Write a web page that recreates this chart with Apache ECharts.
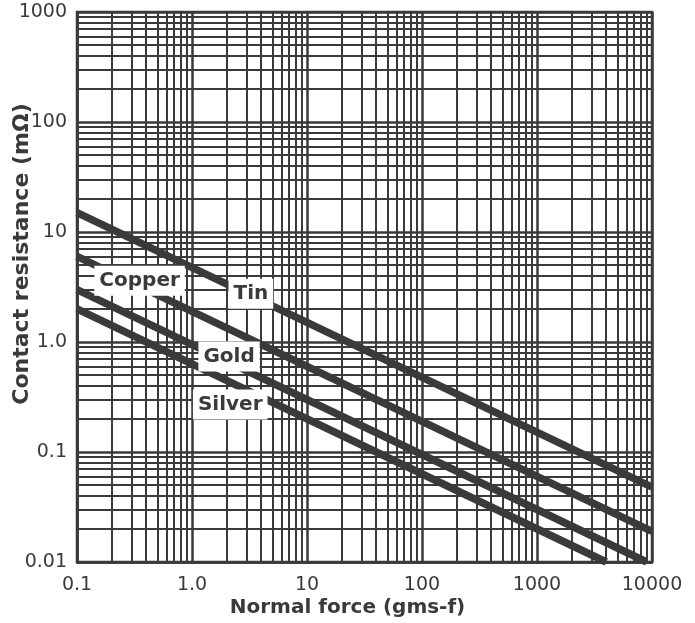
<!DOCTYPE html>
<html>
<head>
    <meta charset="utf-8">
    <title>Contact resistance vs normal force</title>
    <script src="https://cdn.jsdelivr.net/npm/echarts@6/dist/echarts.min.js"></script>
    <style>
        html, body { margin: 0; padding: 0; background: #fff; }
        #chart { width: 695px; height: 623px; }
    </style>
</head>
<body>
    <div id="chart"></div>
    <script>
        // axis ranges and labels
        var xDecades = [0.1, 1, 10, 100, 1000];
        var yDecades = [0.01, 0.1, 1, 10, 100];
        var minorSteps = [2, 3, 4, 5, 6, 7, 8, 9];
        var labelText = {'0.01': '0.01', '0.1': '0.1', '1': '1.0', '10': '10',
                         '100': '100', '1000': '1000', '10000': '10000'};

        // curves: [force, resistance]
        var tin = [[0.1, 15], [10000, 0.048]];
        var copper = [[0.1, 6], [10000, 0.019]];
        var gold = [[0.1, 3], [9000, 0.01]];
        var silver = [[0.1, 2], [4000, 0.01]];

        // curve labels: [force, resistance, text]
        var tags = [[0.35, 3.6, 'Copper'], [3.25, 2.75, 'Tin'],
                    [2.1, 0.74, 'Gold'], [2.15, 0.27, 'Silver']];

        var ink = '#3a3a3a';
        var font = '"DejaVu Sans", Verdana, sans-serif';

        // minor grid lines at 2..9 times each decade
        var gridLines = [];
        xDecades.forEach(d => minorSteps.forEach(k => gridLines.push({xAxis: +(d * k).toPrecision(3)})));
        yDecades.forEach(d => minorSteps.forEach(k => gridLines.push({yAxis: +(d * k).toPrecision(3)})));

        function curve(name, data) {
            return {
                name: name,
                type: 'line',
                data: data,
                symbol: 'none',
                z: 3,
                lineStyle: {color: ink, width: 7.5, cap: 'butt'}
            };
        }

        var tickLabel = v => labelText[String(+v.toPrecision(3))] || '';

        var chart = echarts.init(document.getElementById('chart'), null, {renderer: 'canvas'});
        chart.setOption({
            animation: false,
            backgroundColor: '#fff',
            grid: {left: 77, right: 43, top: 12, bottom: 61, show: true,
                   containLabel: false, outerBoundsMode: 'none',
                   borderColor: ink, borderWidth: 2.5, backgroundColor: 'transparent'},
            xAxis: {
                type: 'log', logBase: 10, min: 0.1, max: 10000,
                name: 'Normal force (gms-f)', nameLocation: 'middle', nameGap: 36,
                nameMoveOverlap: false,
                nameTextStyle: {fontFamily: font, fontWeight: 'bold', fontSize: 20, color: ink,
                                padding: [0, 34, 0, 0]},
                axisLine: {lineStyle: {color: ink, width: 2.5}},
                axisTick: {show: false},
                splitLine: {show: true, lineStyle: {color: ink, width: 2.5}},
                axisLabel: {fontFamily: font, fontSize: 19, color: ink, margin: 14, formatter: tickLabel}
            },
            yAxis: {
                type: 'log', logBase: 10, min: 0.01, max: 1000,
                name: 'Contact resistance (m\u03a9)', nameLocation: 'middle', nameGap: 44,
                nameMoveOverlap: false,
                nameTextStyle: {fontFamily: font, fontWeight: 'bold', fontSize: 22, color: ink,
                                padding: [0, 0, 0, 66]},
                axisLine: {lineStyle: {color: ink, width: 2.5}},
                axisTick: {show: false},
                splitLine: {show: true, lineStyle: {color: ink, width: 2.5}},
                axisLabel: {fontFamily: font, fontSize: 19, color: ink, margin: 10, formatter: tickLabel}
            },
            series: [
                {
                    type: 'line', data: [], silent: true, z: 1,
                    markLine: {
                        silent: true, symbol: ['none', 'none'], label: {show: false},
                        lineStyle: {color: ink, width: 2, type: 'solid'},
                        data: gridLines
                    }
                },
                curve('Tin', tin),
                curve('Copper', copper),
                curve('Gold', gold),
                curve('Silver', silver),
                {
                    type: 'scatter', z: 5, symbolSize: 0,
                    itemStyle: {opacity: 1},
                    data: tags.map(t => ({value: [t[0], t[1]], name: t[2]})),
                    label: {
                        show: true, position: 'inside', formatter: p => p.name,
                        fontFamily: font, fontWeight: 'bold', fontSize: 20, color: ink,
                        backgroundColor: '#fff', padding: [5, 5, 5, 5]
                    }
                }
            ]
        });
    </script>
</body>
</html>
